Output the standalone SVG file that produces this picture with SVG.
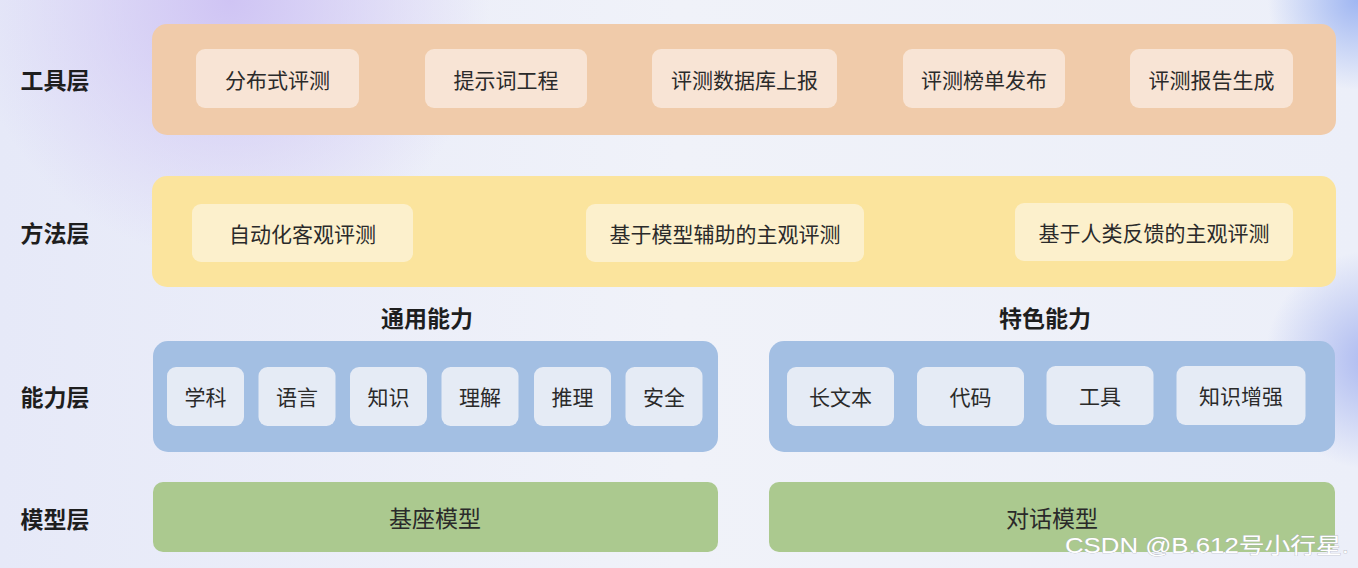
<svg xmlns="http://www.w3.org/2000/svg" width="1358" height="568" viewBox="0 0 1358 568">
<defs>
<radialGradient id="gPurple" cx="230" cy="0" r="260" gradientUnits="userSpaceOnUse">
<stop offset="0" stop-color="#cfc4f4"/>
<stop offset="1" stop-color="#cfc4f4" stop-opacity="0"/>
</radialGradient>
<radialGradient id="gBlueTR" cx="1358" cy="0" r="90" gradientUnits="userSpaceOnUse">
<stop offset="0" stop-color="#9fb6f2"/>
<stop offset="1" stop-color="#9fb6f2" stop-opacity="0"/>
</radialGradient>
<radialGradient id="gBlueR" cx="1375" cy="360" r="110" gradientUnits="userSpaceOnUse">
<stop offset="0" stop-color="#aab8f0"/>
<stop offset="1" stop-color="#aab8f0" stop-opacity="0"/>
</radialGradient>
<linearGradient id="gBase" x1="0" y1="0" x2="1" y2="0">
<stop offset="0" stop-color="#e6e9f8"/>
<stop offset="0.5" stop-color="#f0f2f9"/>
<stop offset="1" stop-color="#eceff9"/>
</linearGradient>
<style>
.lbl{font-family:"Noto Sans CJK SC","Noto Sans",sans-serif;font-size:23px;font-weight:bold;fill:#1e1e1e;text-anchor:middle;dominant-baseline:central}
.t{font-family:"Noto Sans CJK SC","Noto Sans",sans-serif;font-size:21px;fill:#2a2a2a;text-anchor:middle;dominant-baseline:central}
.tb{font-family:"Noto Sans CJK SC","Noto Sans",sans-serif;font-size:23px;fill:#2a2a2a;text-anchor:middle;dominant-baseline:central}
.toolBand{fill:#f0cbaa}
.toolBox{fill:#f8e4d5}
.methBand{fill:#fbe49d}
.methBox{fill:#fcf0cc}
.capBand{fill:#a3bfe3}
.capBox{fill:#e5ebf5}
.modBand{fill:#abc98f}
.wm{font-family:"Liberation Sans","Noto Sans CJK SC",sans-serif;font-size:22px;fill:#ffffff;stroke:#a9adb8;stroke-width:0.6;paint-order:stroke}
</style>
</defs>
<rect width="1358" height="568" fill="url(#gBase)"/>
<rect width="1358" height="568" fill="url(#gPurple)"/>
<rect width="1358" height="568" fill="url(#gBlueTR)"/>
<rect width="1358" height="568" fill="url(#gBlueR)"/>

<g id="labels">
<text class="lbl" x="55" y="79">工具层</text>
<text class="lbl" x="55" y="232">方法层</text>
<text class="lbl" x="55" y="396">能力层</text>
<text class="lbl" x="55" y="518">模型层</text>
<text class="lbl" x="427" y="317">通用能力</text>
<text class="lbl" x="1045" y="317">特色能力</text>
</g>

<g id="tool-layer">
<rect class="toolBand" x="152" y="24" width="1184" height="111" rx="15"/>
<g id="tool-1"><rect class="toolBox" x="196" y="49" width="163" height="59" rx="9"/><text class="t" x="277.5" y="79">分布式评测</text></g>
<g id="tool-2"><rect class="toolBox" x="425" y="49" width="162" height="59" rx="9"/><text class="t" x="506" y="79">提示词工程</text></g>
<g id="tool-3"><rect class="toolBox" x="652" y="49" width="185" height="59" rx="9"/><text class="t" x="744.5" y="79">评测数据库上报</text></g>
<g id="tool-4"><rect class="toolBox" x="903" y="49" width="162" height="59" rx="9"/><text class="t" x="984" y="79">评测榜单发布</text></g>
<g id="tool-5"><rect class="toolBox" x="1130" y="49" width="163" height="59" rx="9"/><text class="t" x="1211.5" y="79">评测报告生成</text></g>
</g>

<g id="method-layer">
<rect class="methBand" x="152" y="176" width="1184" height="111" rx="15"/>
<g id="method-1"><rect class="methBox" x="192" y="204" width="221" height="58" rx="9"/><text class="t" x="302.5" y="233">自动化客观评测</text></g>
<g id="method-2"><rect class="methBox" x="586" y="204" width="278" height="58" rx="9"/><text class="t" x="725" y="233">基于模型辅助的主观评测</text></g>
<g id="method-3"><rect class="methBox" x="1015" y="203" width="278" height="58" rx="9"/><text class="t" x="1154" y="232">基于人类反馈的主观评测</text></g>
</g>

<g id="general-capability">
<rect class="capBand" x="153" y="341" width="565" height="111" rx="15"/>
<g id="cap-1"><rect class="capBox" x="167" y="367" width="77" height="59" rx="9"/><text class="t" x="205.5" y="396">学科</text></g>
<g id="cap-2"><rect class="capBox" x="258.5" y="367" width="77" height="59" rx="9"/><text class="t" x="297" y="396">语言</text></g>
<g id="cap-3"><rect class="capBox" x="350" y="367" width="77" height="59" rx="9"/><text class="t" x="388.5" y="396">知识</text></g>
<g id="cap-4"><rect class="capBox" x="441.5" y="367" width="77" height="59" rx="9"/><text class="t" x="480" y="396">理解</text></g>
<g id="cap-5"><rect class="capBox" x="534" y="367" width="77" height="59" rx="9"/><text class="t" x="572.5" y="396">推理</text></g>
<g id="cap-6"><rect class="capBox" x="625.5" y="367" width="77" height="59" rx="9"/><text class="t" x="664" y="396">安全</text></g>
</g>

<g id="special-capability">
<rect class="capBand" x="769" y="341" width="566" height="111" rx="15"/>
<g id="spec-1"><rect class="capBox" x="787" y="367" width="107" height="59" rx="9"/><text class="t" x="840.5" y="396">长文本</text></g>
<g id="spec-2"><rect class="capBox" x="917" y="367" width="107" height="59" rx="9"/><text class="t" x="970.5" y="396">代码</text></g>
<g id="spec-3"><rect class="capBox" x="1046.5" y="366" width="107" height="59" rx="9"/><text class="t" x="1100" y="395">工具</text></g>
<g id="spec-4"><rect class="capBox" x="1176.5" y="366" width="129" height="59" rx="9"/><text class="t" x="1241" y="395">知识增强</text></g>
</g>

<g id="model-layer">
<g id="model-base"><rect class="modBand" x="153" y="482" width="565" height="70" rx="10"/><text class="tb" x="435" y="517">基座模型</text></g>
<g id="model-chat"><rect class="modBand" x="769" y="482" width="566" height="70" rx="10"/><text class="tb" x="1052" y="517">对话模型</text></g>
</g>

<g id="connectors"></g>

<text class="wm" x="1065" y="553" textLength="284" lengthAdjust="spacingAndGlyphs">CSDN @B.612号小行星.</text>
</svg>
